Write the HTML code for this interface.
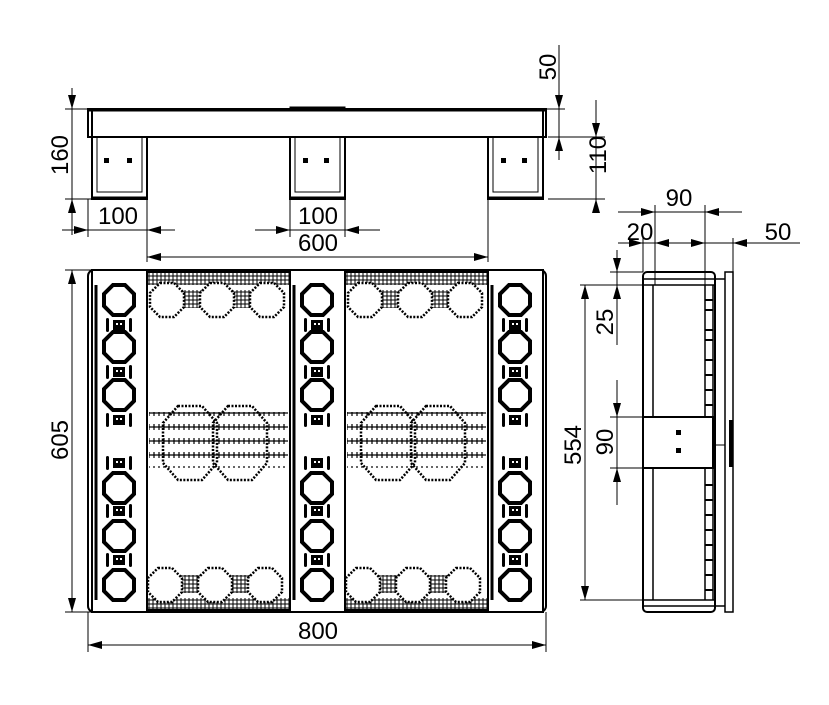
<!DOCTYPE html>
<html><head><meta charset="utf-8"><style>
html,body{margin:0;padding:0;background:#fff;}
svg{display:block}
text{font-family:"Liberation Sans",sans-serif;font-size:24px;fill:#000;}
</style></head><body>
<svg width="829" height="705" viewBox="0 0 829 705" xmlns="http://www.w3.org/2000/svg">
<defs>
<pattern id="hat" width="4" height="4" patternUnits="userSpaceOnUse"><path d="M0 2H4M2 0V4" stroke="#000" stroke-width="1"/></pattern>
<pattern id="hat2" width="5" height="14" patternUnits="userSpaceOnUse"><path d="M0 3H5M2 0V6" stroke="#000" stroke-width="1.2"/></pattern>
<polygon id="oct" points="-6,-15 6,-15 15,-6 15,6 6,15 -6,15 -15,6 -15,-6" fill="none" stroke="#000" stroke-width="4"/>
<polygon id="oc2" points="-7,-17 7,-17 17,-7 17,7 7,17 -7,17 -17,7 -17,-7" fill="#fff" stroke="#000" stroke-width="2.5" stroke-dasharray="2 1.5"/>
<polygon id="big" points="-12,-37 12,-37 27,-20 27,20 12,37 -12,37 -27,20 -27,-20" fill="none" stroke="#000" stroke-width="2.5" stroke-dasharray="2 1.5"/>
<g id="ico"><rect x="-6" y="-5" width="12" height="10" fill="#000"/><rect x="-3" y="-2" width="2" height="2" fill="#fff"/><rect x="1" y="-2" width="2" height="2" fill="#fff"/><rect x="-13" y="-7" width="3" height="14" rx="1.5" fill="#000"/><rect x="10" y="-7" width="3" height="14" rx="1.5" fill="#000"/></g>
<g id="rail">
<rect x="0" y="0" width="55" height="342" fill="#fff" stroke="#000" stroke-width="2"/>
<line x1="4" y1="15" x2="4" y2="330" stroke="#000" stroke-width="3"/>
<use href="#oct" x="27" y="30"/><use href="#oct" x="27" y="77"/><use href="#oct" x="27" y="125"/>
<use href="#oct" x="27" y="218"/><use href="#oct" x="27" y="266"/><use href="#oct" x="27" y="315"/>
<use href="#ico" x="27" y="55"/><use href="#ico" x="27" y="102"/><use href="#ico" x="27" y="150"/>
<use href="#ico" x="27" y="193"/><use href="#ico" x="27" y="241"/><use href="#ico" x="27" y="290"/>
</g>
<g id="open">
<rect x="0" y="2" width="143" height="338" fill="#fff" stroke="#000" stroke-width="2"/>
<rect x="1" y="3" width="141" height="12" fill="url(#hat)"/>
<rect x="1" y="328" width="141" height="12" fill="url(#hat)"/>
<rect x="20" y="20" width="100" height="18" fill="url(#hat)"/>
<rect x="20" y="305" width="100" height="18" fill="url(#hat)"/>
<rect x="2" y="142" width="139" height="56" fill="url(#hat2)"/>
<use href="#oc2" x="20" y="30"/><use href="#oc2" x="70" y="30"/><use href="#oc2" x="120" y="30"/>
<use href="#oc2" x="18" y="315"/><use href="#oc2" x="68" y="315"/><use href="#oc2" x="118" y="315"/>
<use href="#big" x="43" y="173"/><use href="#big" x="93" y="173"/>
</g>
</defs>

<g stroke="#000" fill="none">
<rect x="88" y="109" width="458" height="28" stroke-width="2"/>
<line x1="88" y1="110" x2="546" y2="110" stroke-width="3"/>
<rect x="290" y="107" width="55" height="4" fill="#000"/>
<rect x="92" y="137" width="55" height="62" stroke-width="2" fill="#fff"/>
<rect x="290" y="137" width="55" height="62" stroke-width="2" fill="#fff"/>
<rect x="488" y="137" width="55" height="62" stroke-width="2" fill="#fff"/>
<path d="M97 137V192H142V137M295 137V192H340V137M493 137V192H538V137" stroke-width="1"/>
<line x1="92" y1="198" x2="147" y2="198" stroke-width="3"/>
<line x1="290" y1="198" x2="345" y2="198" stroke-width="3"/>
<line x1="488" y1="198" x2="543" y2="198" stroke-width="3"/>
<line x1="92" y1="109" x2="92" y2="199" stroke-width="2"/>
<line x1="543" y1="109" x2="543" y2="199" stroke-width="2"/>
</g>
<g fill="#000">
<rect x="104" y="158" width="5" height="5"/><rect x="127" y="158" width="5" height="5"/>
<rect x="303" y="158" width="5" height="5"/><rect x="324" y="158" width="5" height="5"/>
<rect x="501" y="158" width="5" height="5"/><rect x="522" y="158" width="5" height="5"/>
</g>

<rect x="88" y="270" width="458" height="342" rx="6" fill="#fff" stroke="#000" stroke-width="2"/>
<use href="#open" x="147" y="270"/>
<use href="#open" x="345" y="270"/>
<use href="#rail" x="92" y="270"/>
<use href="#rail" x="290" y="270"/>
<use href="#rail" x="488" y="270"/>

<g stroke="#000" fill="none">
<rect x="643" y="272" width="72" height="340" rx="4" stroke-width="2"/>
<line x1="653" y1="285" x2="653" y2="600" stroke-width="1.5"/>
<line x1="705" y1="285" x2="705" y2="600" stroke-width="1.5"/>
<line x1="713" y1="285" x2="713" y2="600" stroke-width="1.5"/>
<line x1="643" y1="279" x2="725" y2="279" stroke-width="1.5"/>
<line x1="643" y1="285" x2="715" y2="285" stroke-width="1.5"/>
<line x1="643" y1="600" x2="715" y2="600" stroke-width="1.5"/>
<line x1="643" y1="606" x2="725" y2="606" stroke-width="1.5"/>
<path d="M705 300h8M705 310h8M705 330h8M705 340h8M705 360h8M705 375h8M705 390h8M705 405h8M705 485h8M705 500h8M705 515h8M705 530h8M705 545h8M705 560h8M705 575h8M705 590h8" stroke-width="2"/>
<rect x="725" y="272" width="8" height="340" stroke-width="1.5"/>
<rect x="643" y="417" width="70" height="51" fill="#fff" stroke-width="2"/>
<line x1="713" y1="445" x2="725" y2="445" stroke-width="1"/>
</g>
<rect x="729" y="420" width="4" height="47" fill="#000"/>
<rect x="676" y="430" width="5" height="5" fill="#000"/><rect x="676" y="448" width="5" height="5" fill="#000"/>

<g stroke="#000" stroke-width="1" fill="none">
<path d="M72 88V235M65 109H88M65 199H92"/>
<path d="M88 199V237M147 199V262M62 230H175M290 199V237M345 199V237M255 230H380"/>
<path d="M488 199V262M147 257H488"/>
<path d="M559 45V160M546 109H565M548 137H605M548 199H605M596 100V210"/>
<path d="M72 270V612M65 270H95M65 612H95M88 612V652M546 612V652M88 645H546"/>
<path d="M643 236V272M655 205V285M705 205V285M733 238V272M618 212H742M618 243H800"/>
<path d="M610 272H643M580 285H643M610 417H643M610 468H643M580 600H643M617 250V345M617 380V505M585 285V600"/>
</g>
<g fill="#000">
<polygon points="72,109 68,95 76,95"/><polygon points="72,199 68,213 76,213"/>
<polygon points="88,230 74,226 74,234"/><polygon points="147,230 161,226 161,234"/>
<polygon points="290,230 276,226 276,234"/><polygon points="345,230 359,226 359,234"/>
<polygon points="147,257 161,253 161,261"/><polygon points="488,257 474,253 474,261"/>
<polygon points="559,109 555,95 563,95"/><polygon points="559,137 555,151 563,151"/>
<polygon points="596,137 592,123 600,123"/><polygon points="596,199 592,213 600,213"/>
<polygon points="72,270 68,284 76,284"/><polygon points="72,612 68,598 76,598"/>
<polygon points="88,645 102,641 102,649"/><polygon points="546,645 532,641 532,649"/>
<polygon points="655,212 641,208 641,216"/><polygon points="705,212 719,208 719,216"/>
<polygon points="643,243 629,239 629,247"/><polygon points="655,243 669,239 669,247"/>
<polygon points="705,243 691,239 691,247"/><polygon points="733,243 747,239 747,247"/>
<polygon points="617,272 613,258 621,258"/><polygon points="617,285 613,299 621,299"/>
<polygon points="617,417 613,403 621,403"/><polygon points="617,468 613,482 621,482"/>
<polygon points="585,285 581,299 589,299"/><polygon points="585,600 581,586 589,586"/>
</g>

<g>
<text transform="translate(68,155) rotate(-90)" text-anchor="middle">160</text>
<text x="118" y="224" text-anchor="middle">100</text>
<text x="318" y="224" text-anchor="middle">100</text>
<text x="318" y="251" text-anchor="middle">600</text>
<text transform="translate(556,67) rotate(-90)" text-anchor="middle">50</text>
<text transform="translate(606,155) rotate(-90)" text-anchor="middle">110</text>
<text transform="translate(68,440) rotate(-90)" text-anchor="middle">605</text>
<text x="318" y="639" text-anchor="middle">800</text>
<text x="679" y="206" text-anchor="middle">90</text>
<text x="640" y="240" text-anchor="middle">20</text>
<text x="778" y="240" text-anchor="middle">50</text>
<text transform="translate(613,322) rotate(-90)" text-anchor="middle">25</text>
<text transform="translate(613,442) rotate(-90)" text-anchor="middle">90</text>
<text transform="translate(581,445) rotate(-90)" text-anchor="middle">554</text>
</g>
</svg>
</body></html>
